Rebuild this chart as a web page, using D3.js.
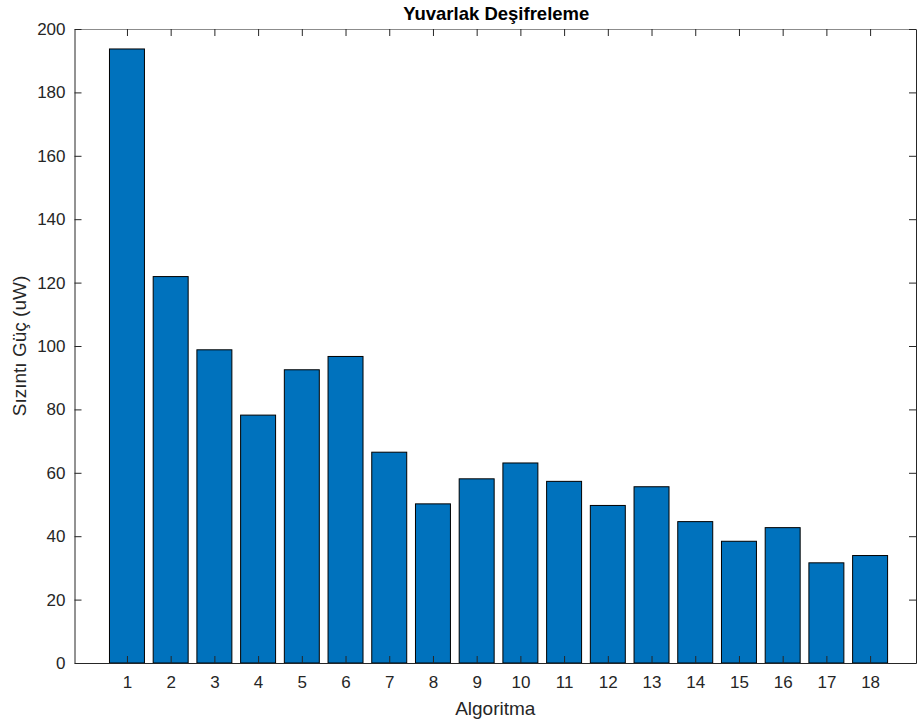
<!DOCTYPE html>
<html>
<head>
<meta charset="utf-8">
<script src="https://cdn.jsdelivr.net/npm/d3@7"></script>
<style>
  body { margin: 0; background: #fff; }
  svg { display: block; font-family: Arial, "Liberation Sans", Helvetica, sans-serif; }
</style>
</head>
<body>
<svg id="chart" width="917" height="724"></svg>
<script>
// Leakage power per algorithm for round decryption
const algorithms = [1, 2, 3, 4, 5, 6, 7, 8, 9, 10, 11, 12, 13, 14, 15, 16, 17, 18];
const leakage = [193.7, 121.9, 98.8, 78.2, 92.5, 96.7, 66.5, 50.2, 58.1, 63.1, 57.3, 49.7, 55.6, 44.6, 38.4, 42.7, 31.6, 33.9];
const yTicks = [0, 20, 40, 60, 80, 100, 120, 140, 160, 180, 200];
const titleText = "Yuvarlak Deşifreleme";
const xLabelText = "Algoritma";
const yLabelText = "Sızıntı Güç (uW)";

(function draw() {
  const svg = d3.select("#chart");
  const pLeft = 74.5, pRight = 916, pTop = 29, pBottom = 663;
  const axisColor = "#262626";

  const x = d3.scaleLinear().domain([-0.2, 19.05]).range([pLeft, pRight]);
  const y = d3.scaleLinear().domain([0, 200]).range([pBottom, pTop]);
  const barW = (x(1) - x(0)) * 0.8;

  // bars
  svg.append("g").selectAll("rect")
    .data(algorithms)
    .join("rect")
    .attr("x", (d) => x(d) - barW / 2)
    .attr("width", barW)
    .attr("y", (d, i) => y(leakage[i]))
    .attr("height", (d, i) => y(0) - y(leakage[i]))
    .attr("fill", "#0072BD")
    .attr("stroke", "#000")
    .attr("stroke-width", 1);

  // axes with inward ticks (box style)
  const tickLen = 7;
  const xAxisB = d3.axisBottom(x).tickValues(algorithms).tickSizeInner(-tickLen).tickSizeOuter(0).tickPadding(13);
  const xAxisT = d3.axisTop(x).tickValues(algorithms).tickSizeInner(-tickLen).tickSizeOuter(0).tickFormat("");
  const yAxisL = d3.axisLeft(y).tickValues(yTicks).tickSizeInner(-tickLen).tickSizeOuter(0).tickPadding(9);
  const yAxisR = d3.axisRight(y).tickValues(yTicks).tickSizeInner(-tickLen).tickSizeOuter(0).tickFormat("");

  function style(g) {
    g.attr("font-family", null);
    g.select(".domain").attr("stroke", axisColor).attr("stroke-width", 1);
    g.selectAll(".tick line").attr("stroke", axisColor);
    g.selectAll(".tick text").attr("fill", axisColor).style("font-size", "17px");
  }

  svg.append("g").attr("transform", `translate(0,${pBottom})`).call(xAxisB).call(style);
  svg.append("g").attr("transform", `translate(0,${pTop})`).call(xAxisT).call(style)
    .select(".domain").attr("stroke", "#8c8c8c");
  svg.append("g").attr("transform", `translate(${pLeft},0)`).call(yAxisL).call(style);
  svg.append("g").attr("transform", `translate(${pRight},0)`).call(yAxisR).call(style);

  // title and axis labels
  svg.append("text")
    .attr("x", (pLeft + pRight) / 2 + 1).attr("y", 20)
    .attr("text-anchor", "middle")
    .attr("font-weight", "bold").attr("font-size", "18.5px").attr("fill", "#000")
    .text(titleText);

  svg.append("text")
    .attr("x", (pLeft + pRight) / 2).attr("y", 715)
    .attr("text-anchor", "middle")
    .attr("font-size", "19px").attr("fill", axisColor)
    .text(xLabelText);

  svg.append("text")
    .attr("transform", `translate(26,${(pTop + pBottom) / 2}) rotate(-90)`)
    .attr("text-anchor", "middle")
    .attr("font-size", "19px").attr("fill", axisColor)
    .text(yLabelText);
})();
</script>
</body>
</html>
